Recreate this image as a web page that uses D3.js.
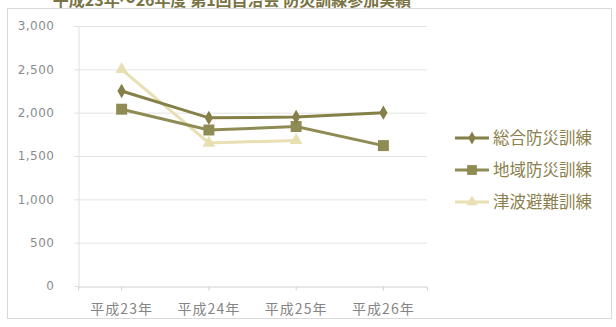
<!DOCTYPE html>
<html><head><meta charset="utf-8">
<script src="https://cdn.jsdelivr.net/npm/d3@7"></script>
<style>body{margin:0;background:#fff;} svg{display:block;}</style>
</head><body>
<svg id="c" width="616" height="327"></svg>
<script>
const categories = ["平成23年","平成24年","平成25年","平成26年"];
const seriesNames = ["総合防災訓練","地域防災訓練","津波避難訓練"];
const sogo = [2250, 1940, 1950, 2000];
const chiiki = [2040, 1800, 1840, 1620];
const tsunami = [2500, 1650, 1680, null];
const yTicks = [0, 500, 1000, 1500, 2000, 2500, 3000];
const title = "平成23年～26年度 第1回自治会 防災訓練参加実績";

const svg = d3.select("#c");
const font = "'Noto Sans CJK JP','Noto Sans',sans-serif";

svg.append("rect").attr("x",7.5).attr("y",8.5).attr("width",604).attr("height",310)
  .attr("fill","none").attr("stroke","#d9d9d9");

svg.append("text").attr("x",232).attr("y",6).attr("text-anchor","middle")
  .attr("font-family",font).attr("font-weight","bold").attr("font-size",16)
  .attr("fill","#7a7444").text(title);

const x = d3.scaleBand().domain(categories).range([78, 427]);
const y = d3.scaleLinear().domain([0, 3000]).range([286, 26]);

svg.append("g").selectAll("line").data(yTicks.filter(d=>d>0)).join("line")
  .attr("x1",78).attr("x2",427).attr("y1",d=>y(d)+0.5).attr("y2",d=>y(d)+0.5)
  .attr("stroke","#e3e3e3");

const yAxis = svg.append("g").attr("transform","translate(78.5,0)")
  .call(d3.axisLeft(y).tickValues(yTicks).tickFormat(d3.format(",")).tickSize(4).tickPadding(20));
yAxis.select(".domain").attr("stroke","#e0e0e0");
yAxis.selectAll(".tick line").attr("stroke","#e0e0e0");
yAxis.selectAll("text").attr("font-family","'DejaVu Sans',sans-serif").attr("font-size",12)
  .attr("letter-spacing",0.5).attr("fill","#8c8c8c");

const xAxis = svg.append("g").attr("transform","translate(0,286.5)")
  .call(d3.axisBottom(x).tickSize(4).tickPadding(14));
xAxis.select(".domain").attr("stroke","#d0d0d0");
xAxis.selectAll(".tick line").attr("stroke","#d0d0d0");
xAxis.selectAll("text").attr("font-family",font).attr("font-size",14)
  .attr("letter-spacing",1).attr("fill","#858585");

const cx = c => x(c) + x.bandwidth()/2;
const series = [
  {name:seriesNames[0], vals:sogo, color:"#857f48", sym:d3.symbolDiamond, size:60, w:3},
  {name:seriesNames[1], vals:chiiki, color:"#8f8b55", sym:d3.symbolSquare, size:120, w:3},
  {name:seriesNames[2], vals:tsunami, color:"#e8dfb2", sym:d3.symbolTriangle, size:70, w:3}
];
[2,1,0].forEach(i=>{
  const s = series[i];
  const pts = categories.map((c,j)=>({c, v:s.vals[j]})).filter(p=>p.v!=null);
  const line = d3.line().x(p=>cx(p.c)).y(p=>y(p.v));
  svg.append("path").datum(pts).attr("d",line).attr("fill","none")
    .attr("stroke",s.color).attr("stroke-width",s.w);
  svg.append("g").selectAll("path").data(pts).join("path")
    .attr("transform",p=>`translate(${cx(p.c)},${y(p.v)})`)
    .attr("d",d3.symbol(s.sym,s.size)).attr("fill",s.color);
});

const lg = svg.append("g");
series.forEach((s,i)=>{
  const yy = 138 + i*32;
  lg.append("line").attr("x1",455).attr("x2",489).attr("y1",yy).attr("y2",yy)
    .attr("stroke",s.color).attr("stroke-width",3);
  lg.append("path").attr("transform",`translate(472,${yy})`)
    .attr("d",d3.symbol(s.sym,s.size*0.8)).attr("fill",s.color);
  lg.append("text").attr("x",493).attr("y",yy+6).attr("font-family",font)
    .attr("font-size",16.5).attr("fill","#8b7f4c").text(s.name);
});
</script>
</body></html>
